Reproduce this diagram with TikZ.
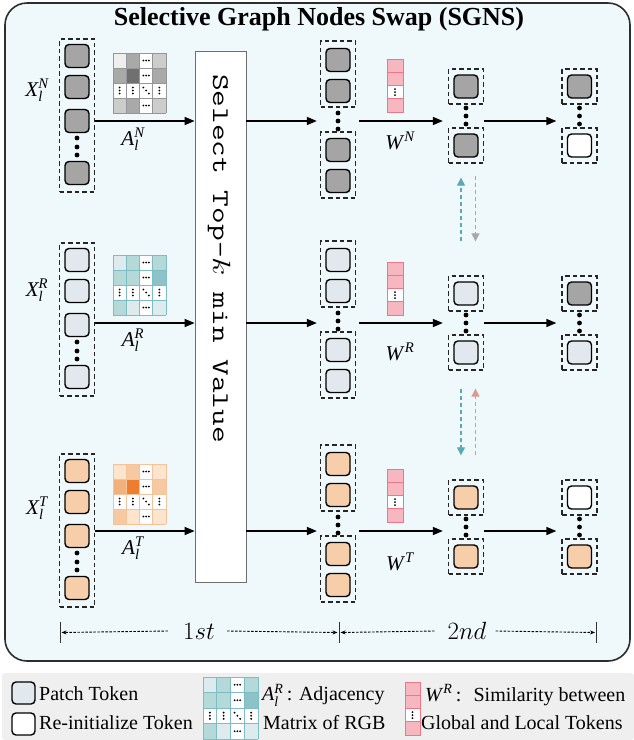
\documentclass[tikz,border=0pt]{standalone}
\usepackage{amsmath}
\usepackage{graphicx}
\usepackage{fontspec}
\setmainfont{Liberation Serif}
\usetikzlibrary{arrows.meta,calc}

\definecolor{bgc}{RGB}{239,248,250}
\definecolor{framec}{RGB}{45,45,45}
\definecolor{tokN}{RGB}{165,165,165}
\definecolor{tokR}{RGB}{226,233,238}
\definecolor{tokT}{RGB}{246,206,170}
\definecolor{wfill}{RGB}{247,183,193}
\definecolor{wdraw}{RGB}{236,120,135}
\definecolor{legbg}{RGB}{239,239,239}
\definecolor{tealA}{RGB}{90,169,181}
\definecolor{grayA}{RGB}{168,168,168}
\definecolor{salA}{RGB}{217,154,143}
\definecolor{selc}{RGB}{110,110,110}
% matrix colours
\definecolor{gN}{RGB}{150,150,150}
\definecolor{nA}{RGB}{238,238,238}
\definecolor{nB}{RGB}{169,169,169}
\definecolor{nC}{RGB}{204,204,204}
\definecolor{nD}{RGB}{112,112,112}
\definecolor{gR}{RGB}{125,190,196}
\definecolor{rA}{RGB}{221,235,238}
\definecolor{rB}{RGB}{181,216,216}
\definecolor{rC}{RGB}{141,195,200}
\definecolor{gT}{RGB}{245,195,154}
\definecolor{tA}{RGB}{252,228,205}
\definecolor{tB}{RGB}{247,201,163}
\definecolor{tC}{RGB}{242,176,124}
\definecolor{tD}{RGB}{237,125,49}

\newcommand\adjm[3]{%
 \begin{scope}[#1]
  \fill[white] (0,0) rectangle (53,60);
  \foreach \cc/\rr/\cl in {#3} \fill[\cl] ({\cc*13.25},{\rr*15}) rectangle ++(13.25,15);
  \foreach \i in {0,...,4} {
    \draw[#2, line width=0.9pt] ({\i*13.25},0) -- ({\i*13.25},60);
    \draw[#2, line width=0.9pt] (0,{\i*15}) -- (53,{\i*15});
  }
  \foreach \rr in {0,1,3} \foreach \k in {-1,0,1} \fill ({33.125+\k*2.7},{\rr*15+7.5}) circle (1pt);
  \foreach \cc in {0,1,3} \foreach \k in {-1,0,1} \fill ({\cc*13.25+6.625},{37.5+\k*3}) circle (1pt);
  \foreach \k in {-1,0,1} \fill ({33.125+\k*2.7},{37.5+\k*3}) circle (1pt);
 \end{scope}}

\tikzset{
  tok/.style={draw=black, line width=1.4pt, rounded corners=4pt, minimum width=24pt, minimum height=23pt, inner sep=0pt},
  dbox/.style={draw=black!85, dash pattern=on 4.5pt off 3pt, line width=1.3pt, inner sep=0pt},
  wcell/.style={draw=wdraw, fill=wfill, line width=1pt, minimum width=16pt, minimum height=13.25pt, inner sep=0pt},
  arr/.style={line width=1.5pt, -{Triangle[length=10pt,width=8pt]}},
  varr/.style={line width=1.2pt, dash pattern=on 4pt off 3pt, -{Triangle[length=8pt,width=8pt]}},
  axarr/.style={black, line width=0.9pt, dash pattern=on 2.5pt off 1.5pt, -{Stealth[length=5pt,width=4pt]}},
  lab/.style={font=\fontsize{21}{24}\selectfont, inner sep=0pt},
  legtxt/.style={font=\fontsize{20}{22}\selectfont, inner sep=0pt, anchor=west},
}

\begin{document}
\begin{tikzpicture}[x=1pt,y=-1pt]
\useasboundingbox (0,0) rectangle (634,740);

% outer frame
\draw[framec, line width=1.6pt, fill=bgc, rounded corners=22pt] (5,3) rectangle (630,661);
\node[font=\fontsize{26}{28}\selectfont\bfseries] (title) at (319,19) {Selective Graph Nodes Swap (SGNS)};

% row coordinates
\coordinate (rN) at (0,121);
\coordinate (rR) at (0,323);
\coordinate (rT) at (0,531);

% left columns
\foreach \r/\L/\c in {N/39/tokN,R/243/tokR,T/454/tokT}{
  \node[dbox, minimum width=35pt, minimum height=153pt] (L\r) at (77,\L+76.5) {};
  \foreach \k/\o in {1/17,2/48,3/82,4/134} \node[tok, fill=\c] (L\r\k) at (77,\L+\o) {};
  \foreach \o in {99,108,116} \fill (77,\L+\o) circle (2.4pt);
}

% labels X and A
\node[lab] (XN) at (37,90) {$\textit{X}_{\textit{l}}^{\textit{N}}$};
\node[lab] (XR) at (37,290) {$\textit{X}_{\textit{l}}^{\textit{R}}$};
\node[lab] (XT) at (37,508) {$\textit{X}_{\textit{l}}^{\textit{T}}$};
\node[lab] (AN) at (133,139) {$\textit{A}_{\textit{l}}^{\textit{N}}$};
\node[lab] (AR) at (133,340) {$\textit{A}_{\textit{l}}^{\textit{R}}$};
\node[lab] (AT) at (133,548) {$\textit{A}_{\textit{l}}^{\textit{T}}$};

% adjacency matrices
\adjm{shift={(113,53)}}{gN}{0/0/nA,1/0/nB,3/0/nC,0/1/nB,1/1/nD,3/1/nB,0/3/nC,1/3/nB,3/3/nC}
\adjm{shift={(113,255)}}{gR}{0/0/rA,1/0/rB,3/0/rB,0/1/rB,1/1/rB,3/1/rC,0/3/rB,1/3/rA,3/3/rA}
\adjm{shift={(113,464)}}{gT}{0/0/tA,1/0/tB,3/0/tA,0/1/tC,1/1/tD,3/1/tB,0/3/tB,1/3/tA,3/3/tA}

% select box
\node[draw=selc, line width=0.8pt, fill=white, minimum width=51pt, minimum height=531pt, inner sep=0pt] (sel) at (220.5,316.5) {};
\node[rotate=-90, font=\fontsize{24}{26}\selectfont\ttfamily, inner sep=0pt] (seltxt) at (219,258.5) {\scalebox{1.35}[1]{Select Top-$k$ min Value}};

% middle columns
\foreach \r/\d/\c in {N/121/tokN,R/321/tokR,T/525/tokT}{
  \node[dbox, minimum width=35pt, minimum height=66pt] (Mu\r) at (338,\d-47) {};
  \node[dbox, minimum width=35pt, minimum height=66pt] (Ml\r) at (338,\d+44) {};
  \node[tok, fill=\c] (Mu\r a) at (338,\d-61) {};
  \node[tok, fill=\c] (Mu\r b) at (338,\d-30) {};
  \node[tok, fill=\c] (Ml\r a) at (338,\d+29) {};
  \node[tok, fill=\c] (Ml\r b) at (338,\d+60) {};
  \foreach \o in {-8,0,8} \fill (338,\d+\o) circle (2.4pt);
}

% W columns
\foreach \r/\t in {N/59,R/262,T/469}{
  \foreach \k in {0,1,3} \node[wcell] (W\r\k) at (395,\t+\k*13.25+6.625) {};
  \node[wcell, fill=white] (W\r2) at (395,\t+2*13.25+6.625) {};
  \foreach \o in {-3,0,3} \fill (395,\t+2*13.25+6.625+\o) circle (1.1pt);
}
\node[lab] (WN) at (400,141) {$\textit{W}^{\mkern2mu\textit{N}}$};
\node[lab] (WR) at (400,352) {$\textit{W}^{\mkern2mu\textit{R}}$};
\node[lab] (WT) at (400,562) {$\textit{W}^{\mkern2mu\textit{T}}$};

% third and fourth columns
\foreach \r/\d/\c/\ca/\cb in {N/116/tokN/tokN/white,R/323/tokR/tokN/tokR,T/527/tokT/white/tokT}{
  \node[dbox, minimum width=35pt, minimum height=35pt] (Cu\r) at (466,\d-29.5) {};
  \node[dbox, minimum width=35pt, minimum height=35pt] (Cl\r) at (466,\d+29.5) {};
  \node[tok, fill=\c] (Cu\r t) at (466,\d-29.5) {};
  \node[tok, fill=\c] (Cl\r t) at (466,\d+29.5) {};
  \foreach \o in {-8,0,8} \fill (466,\d+\o) circle (2.4pt);
  \node[dbox, minimum width=35pt, minimum height=35pt] (Du\r) at (579.5,\d-29.5) {};
  \node[dbox, minimum width=35pt, minimum height=35pt] (Dl\r) at (579.5,\d+29.5) {};
  \node[tok, fill=\ca] (Du\r t) at (579.5,\d-29.5) {};
  \node[tok, fill=\cb] (Dl\r t) at (579.5,\d+29.5) {};
  \foreach \o in {-8,0,8} \fill (579.5,\d+\o) circle (2.4pt);
}

% main arrows
\foreach \r in {N,R,T}{
  \draw[arr] (L\r.east |- r\r) -- (sel.west |- r\r);
  \draw[arr] (sel.east |- r\r) -- ($(Mu\r.west |- r\r)+(-3,0)$);
  \draw[arr] ($(Mu\r.east |- r\r)+(3,0)$) -- ($(Cu\r.west |- r\r)+(-5,0)$);
  \draw[arr] (Cu\r.east |- r\r) -- ($(Du\r.west |- r\r)+(-5,0)$);
}

% swap arrows
\draw[varr, tealA] ([xshift=-5pt,yshift=34pt]CuR.north) -- ([xshift=-5pt,yshift=-14pt]ClN.south);
\draw[varr, grayA] ([xshift=9.5pt,yshift=-12pt]ClN.south) -- ([xshift=9.5pt,yshift=34pt]CuR.north);
\draw[varr, tealA] ([xshift=-5pt,yshift=-18pt]ClR.south) -- ([xshift=-5pt,yshift=24pt]CuT.north);
\draw[varr, salA] ([xshift=9.5pt,yshift=24pt]CuT.north) -- ([xshift=9.5pt,yshift=-18pt]ClR.south);

% axis
\coordinate (b1) at (60,632.5);
\coordinate (b2) at (339,632.5);
\coordinate (b3) at (596.5,632.5);
\foreach \b in {b1,b2,b3} \draw[line width=1pt, black!80] ($(\b)+(0,-10.5)$) -- ($(\b)+(0,10.5)$);
\node[font=\fontsize{25}{27}\selectfont, inner sep=0pt] (t1) at (199,631) {$1st$};
\node[font=\fontsize{25}{27}\selectfont, inner sep=0pt] (t2) at (467,631) {$2nd$};
\draw[axarr] ($(t1.west)+(-15,0)$) -- ($(b1)+(1.5,0)$);
\draw[axarr] ($(t1.east)+(12,0)$) -- ($(b2)+(-1.5,0)$);
\draw[axarr] ($(t2.west)+(-13,0)$) -- ($(b2)+(1.5,0)$);
\draw[axarr] ($(t2.east)+(9,0)$) -- ($(b3)+(-1.5,0)$);

% legend
\fill[legbg, rounded corners=3pt] (2,673) rectangle (634,740);
\node[tok, fill=tokR, minimum width=23pt, minimum height=22pt] (lgP) at (23.5,693) {};
\node[tok, fill=white, minimum width=23pt, minimum height=22pt] (lgW) at (23.5,724) {};
\node[legtxt] (lgPt) at (39,694) {Patch Token};
\node[legtxt] (lgWt) at (39,723) {Re-initialize Token};
\adjm{shift={(203,677)},xscale=1.038,yscale=1.033}{gR}{0/0/rA,1/0/rB,3/0/rB,0/1/rB,1/1/rB,3/1/rC,0/3/rB,1/3/rA,3/3/rA}
\node[legtxt] (lgAt) at (262,695) {$\textit{A}_{\textit{l}}^{\textit{R}}$\,: Adjacency};
\node[legtxt] (lgMt) at (263,723) {Matrix of RGB};
\foreach \k in {0,1,3} \node[wcell, minimum width=15pt] (LW\k) at (412.5,682+\k*13.25+6.625) {};
\node[wcell, minimum width=15pt, fill=white] (LW2) at (412.5,682+2*13.25+6.625) {};
\foreach \o in {-3,0,3} \fill (412.5,682+2*13.25+6.625+\o) circle (1.1pt);
\node[legtxt] (lgWRt) at (425,695) {$\textit{W}^{\mkern2mu\textit{R}}$\,:\; Similarity between};
\node[legtxt] (lgGt) at (421,723) {Global and Local Tokens};
\end{tikzpicture}
\end{document}
